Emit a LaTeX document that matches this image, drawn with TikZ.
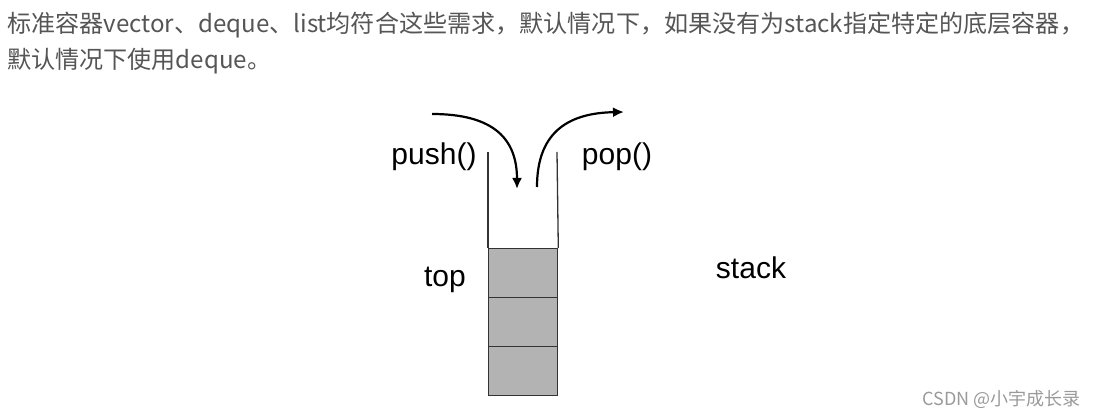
\documentclass[tikz,border=0pt]{standalone}
\usepackage{fontspec}
\setmainfont{Liberation Sans}
\newfontfamily\cjk{Noto Sans CJK SC}
\usetikzlibrary{arrows.meta}
\definecolor{headgray}{HTML}{555555}
\definecolor{cellgray}{HTML}{B3B3B3}
\definecolor{markgray}{HTML}{9A9A9A}
\begin{document}
\begin{tikzpicture}[x=1pt,y=-1pt,
  headtxt/.style={anchor=west,inner sep=0pt,text=headgray,font=\cjk\fontsize{24.1}{28}\selectfont},
  lbl/.style={inner sep=0pt,font=\fontsize{30}{34}\selectfont},
  cell/.style={draw=black!80,line width=1.3pt,fill=cellgray,minimum width=69pt,minimum height=49pt,inner sep=0pt,anchor=north west},
  wall/.style={draw=black!80,line width=1.3pt},
  flow/.style={line width=2.2pt,-{Latex[length=11pt,width=10pt]}}]
\useasboundingbox (0,0) rectangle (1096,419);
\node[headtxt] (h1) at (7,25) {标准容器vector、deque、list均符合这些需求，默认情况下，如果没有为stack指定特定的底层容器，};
\node[headtxt] (h2) at (7,61) {默认情况下使用deque。};
% stack
\node[cell] (c1) at (488,248) {};
\node[cell] (c2) at (488,297) {};
\node[cell] (c3) at (488,346) {};
\coordinate (lt) at (488,152);
\coordinate (rt) at (557,152);
\draw[wall] (lt) -- (c1.north west);
\draw[wall] (rt) -- (c1.north east);
% labels
\node[lbl] (push) at (434,157) {push()};
\node[lbl] (pop) at (617,157) {pop()};
\node[lbl] (top) at (445,280) {top};
\node[lbl] (stack) at (751,268) {stack};
% arrows
\coordinate (ps) at (432,114);
\coordinate (pe) at (517,189);
\coordinate (os) at (537,187);
\coordinate (oe) at (624,112);
\draw[flow] (ps) .. controls (495,114) and (517,140) .. (pe);
\draw[flow] (os) .. controls (537,135) and (565,113) .. (oe);
% watermark
\node[anchor=east,inner sep=0pt,text=markgray,font=\cjk\fontsize{18}{20}\selectfont] (wm) at (1081,400) {CSDN @小宇成长录};
\end{tikzpicture}
\end{document}
